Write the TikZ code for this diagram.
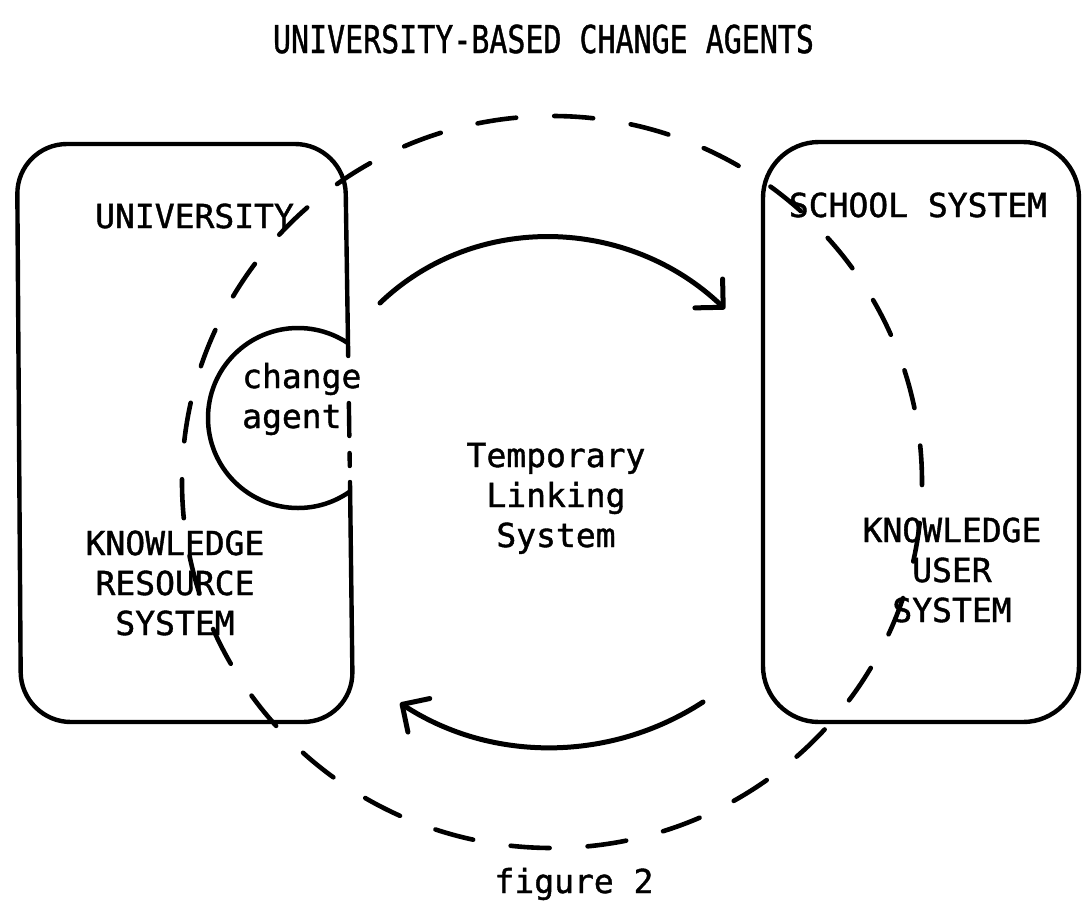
\documentclass[tikz,border=0pt]{standalone}
\usepackage{fontspec}
\newfontfamily\typer[FakeBold=1.2]{DejaVu Sans Mono}
\usetikzlibrary{arrows.meta}
\begin{document}
\begin{tikzpicture}[x=1pt,y=-1pt,
  outline/.style={line width=4.4pt, line cap=round, line join=round},
  ring/.style={line width=4.6pt, line cap=round, dash pattern=on 39pt off 38.07pt, dash phase=36pt},
  flow/.style={line width=5pt, line cap=round, -{Straight Barb[length=20pt,width=40pt,round]}},
  label/.style={font=\typer\fontsize{33}{40}\selectfont, inner sep=0pt, align=center}
]
\useasboundingbox (0,0) rectangle (1082,903);
\fill[white] (0,0) rectangle (1082,903);

% heading
\node[inner sep=0pt, anchor=base, font=\typer\fontsize{38.4}{46}\selectfont] (title) at (543.5,53)
  {\scalebox{0.78}[1]{UNIVERSITY-BASED CHANGE AGENTS}};

% university box, its right side broken where the change agent sits
\coordinate (uTop) at (348,343);
\coordinate (uBot) at (350,482);
\draw[outline, rounded corners=50pt] (uTop) -- (345,144) -- (17,144) -- (21,722) -- (353,722) -- (uBot);
\draw[outline, dash pattern=on 13pt off 47pt on 33pt off 17pt on 13pt off 17pt] (uTop) -- (uBot);

% change agent half-circle
\begin{scope}
  \clip (0,0) rectangle (348,903);
  \node[circle, draw, line width=4.5pt, minimum size=180pt, inner sep=0pt] (agent) at (298,418) {};
\end{scope}

% school system box
\draw[outline, rounded corners=56pt] (763,142) rectangle (1079,722);

% temporary linking ring
\draw[ring] (552,482) ellipse [x radius=370, y radius=366];

% exchange arrows
\coordinate (outStart) at (380,303);
\coordinate (outEnd) at (725,309);
\draw[flow] (outStart) .. controls (476,211) and (629,217) .. (outEnd);
\coordinate (backStart) at (703,702);
\coordinate (backEnd) at (400,703);
\draw[flow] (backStart) .. controls (611,762) and (492,763) .. (backEnd);

% labels (multi-line nodes sit on the baseline of their last line)
\node[label, anchor=base west] (university) at (95,228) {UNIVERSITY};
\node[label, anchor=base west, align=left] (agenttext) at (242,428) {change\\agent};
\node[label, anchor=base] (resource) at (175,635) {KNOWLEDGE\\RESOURCE\\SYSTEM};
\node[label, anchor=base] (linking) at (556,547) {Temporary\\Linking\\System};
\node[label, anchor=base] (school) at (918,217) {SCHOOL SYSTEM};
\node[label, anchor=base] (user) at (952,622) {KNOWLEDGE\\USER\\SYSTEM};
\node[label, anchor=base] (fig) at (574,893) {figure 2};
\end{tikzpicture}
\end{document}
